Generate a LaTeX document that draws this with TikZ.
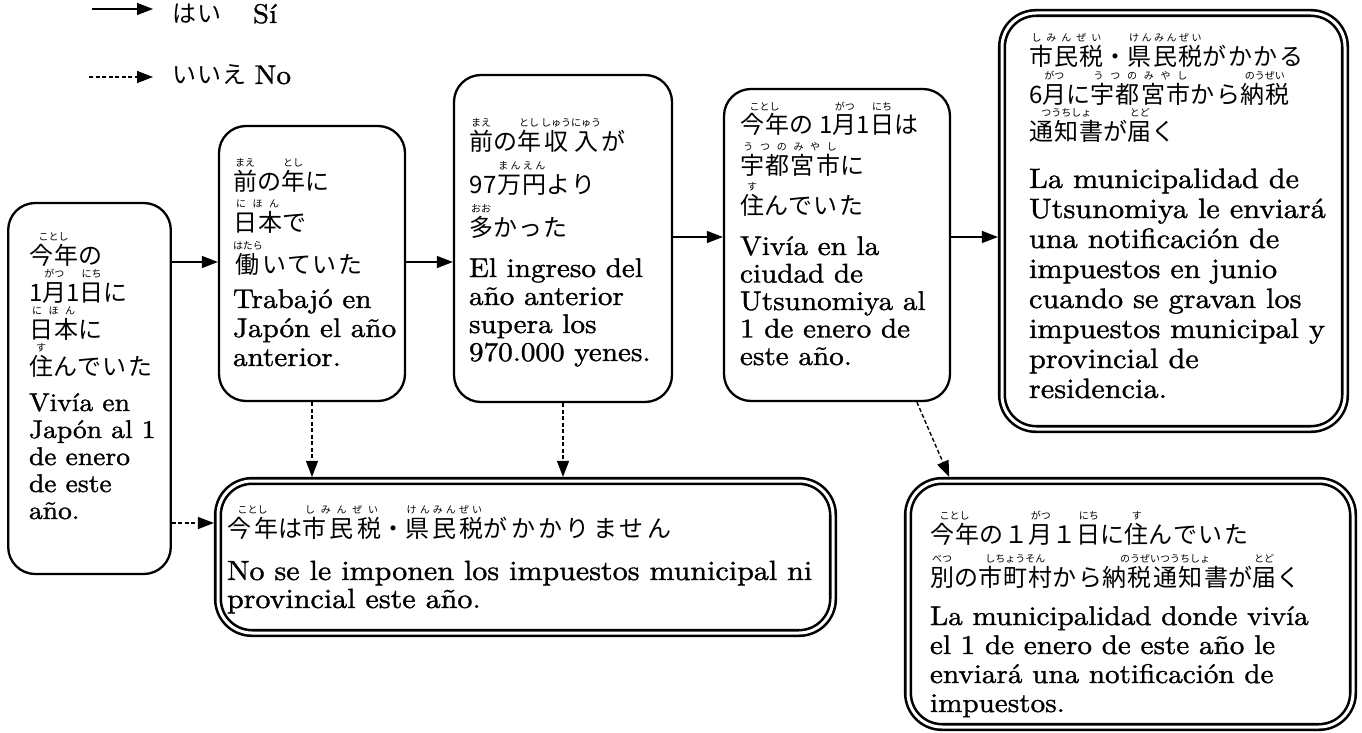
\documentclass[tikz,border=0pt]{standalone}
\usepackage{fontspec}
\setmainfont{lmroman10-regular.otf}[FakeStretch=1.08,FakeBold=1.2]
\newfontfamily\jfam{Noto Sans CJK JP}[LetterSpace=6]
\newfontfamily\jwfam{Noto Sans CJK JP}[LetterSpace=14]
\newfontfamily\rfam{Noto Sans CJK JP}
\usetikzlibrary{arrows.meta,calc}
\newbox\rbA \newbox\rbB \newdimen\rbW
\newcommand\rubyf{\rfam\fontsize{10}{10}\selectfont}
\newcommand\jf{\jfam\fontsize{24}{24}\selectfont}
\newcommand\jwf{\jwfam\fontsize{24}{24}\selectfont}
\makeatletter
\newcommand\spreadchars[1]{\@tfor\rb@c:=#1\do{\hskip0pt plus1fil\rb@c\hskip0pt plus1fil}}
\makeatother
% centred ruby
\newcommand\rb[2]{\setbox\rbA\hbox{#1}\setbox\rbB\hbox{\rubyf #2}%
  \rbW=\wd\rbA \ifdim\wd\rbB>\rbW \rbW=\wd\rbB\fi
  \hbox to\rbW{\hss\box\rbA\hss}%
  \llap{\smash{\raise24pt\hbox to\rbW{\hss\box\rbB\hss}}}}
% spread ruby
\newcommand\rbs[2]{\setbox\rbA\hbox{#1}\setbox\rbB\hbox{\rubyf #2}%
  \rbW=\wd\rbA \ifdim\wd\rbB>\rbW \rbW=\wd\rbB\fi
  \hbox to\rbW{\hss\box\rbA\hss}%
  \llap{\smash{\raise24pt\hbox to\rbW{\rubyf\spreadchars{#2}}}}}
\newcommand\JL[1]{\hbox{\jf #1}}
\newcommand\JW[1]{\hbox{\jwf #1}}
\newcommand\SL[1]{\hbox{#1}}
\newcommand\BS[1]{\baselineskip=#1pt\relax}
\newcommand\TB[1]{\vtop{\lineskiplimit=-\maxdimen #1}}
\tikzset{
  txt/.style={anchor=base west, inner sep=0pt, outer sep=0pt, font=\fontsize{27}{28}\selectfont},
  sbox/.style={draw, line width=2.3pt, rounded corners=27pt, inner sep=0pt},
  dbox/.style={draw, line width=2.6pt, double=white, double distance=3pt, rounded corners=34pt, inner sep=0pt, outer sep=4.1pt},
  arrY/.style={line width=1.4pt, -{Triangle[length=16pt,width=12pt]}},
  arrN/.style={arrY, dash pattern=on 4pt off 2.5pt}
}
\begin{document}
\begin{tikzpicture}[x=1pt,y=-1pt]
\useasboundingbox (0,0) rectangle (1362,733);
% boxes
\node[sbox, minimum width=162.6pt, minimum height=371pt] (b1) at (89.5,388.5) {};
\node[sbox, minimum width=186pt, minimum height=275pt] (b2) at (312,263.5) {};
\node[sbox, minimum width=218pt, minimum height=327pt] (b3) at (563,238.5) {};
\node[sbox, minimum width=226pt, minimum height=312pt] (b4) at (837,245) {};
\node[dbox, minimum width=343pt, minimum height=416pt] (b5) at (1173.5,221) {};
\node[dbox, minimum width=615pt, minimum height=152pt] (b6) at (525.5,557) {};
\node[dbox, minimum width=445pt, minimum height=246pt] (b7) at (1130.5,604) {};
% texts
\node[txt, font=\fontsize{25.5}{27}\selectfont] (t1) at (29,264) {\TB{\BS{37}%
  \JL{\rb{今年}{ことし}の}\JL{1\rb{月}{がつ}1\rb{日}{にち}に}\JL{\rbs{日本}{にほん}に}\JL{\rb{住}{す}んでいた}%
  \vskip9pt\BS{27}\SL{Vivía en}\SL{Japón al 1}\SL{de enero}\SL{de este}\SL{año.}}};
\node[txt] (t2) at (233,190) {\TB{\BS{41.5}%
  \JL{\rb{前}{まえ}の\rb{年}{とし}に}\JL{\rbs{日本}{にほん}で}\JL{\rb{働}{はたら}いていた}%
  \vskip6pt\BS{29}\SL{Trabajó en}\SL{Japón el año}\SL{anterior.}}};
\node[txt] (t3) at (469,150) {\TB{\BS{43}%
  \JL{\rb{前}{まえ}の\rb{年}{とし}\rb{収}{しゅう}\rb{入}{にゅう}が}\JL{97\rbs{万円}{まんえん}より}\JL{\rb{多}{おお}かった}%
  \vskip13pt\BS{28}\SL{El ingreso del}\SL{año anterior}\SL{supera los}\SL{970.000 yenes.}}};
\node[txt] (t4) at (740,134) {\TB{\BS{40.5}%
  \JL{\rb{今年}{ことし}の\kern6pt 1\rb{月}{がつ}1\rb{日}{にち}は}\JL{\rbs{宇都宮市}{うつのみやし}に}\JL{\rb{住}{す}んでいた}%
  \vskip12.5pt\BS{27.5}\SL{Vivía en la}\SL{ciudad de}\SL{Utsunomiya al}\SL{1 de enero de}\SL{este año.}}};
\node[txt, font=\fontsize{28}{30}\selectfont] (t5) at (1029,66) {\TB{\BS{37.5}%
  \JL{\rbs{市民税}{しみんぜい}・\rbs{県民税}{けんみんぜい}がかかる}\JL{6\rb{月}{がつ}に\rbs{宇都宮市}{うつのみやし}から\rb{納税}{のうぜい}}\JL{\rb{通知書}{つうちしょ}が\rb{届}{とど}く}%
  \vskip17pt\BS{30}\SL{La municipalidad de}\SL{Utsunomiya le enviará}\SL{una notificación de}\SL{impuestos en junio}\SL{cuando se gravan los}\SL{impuestos municipal y}\SL{provincial de}\SL{residencia.}}};
\node[txt, font=\fontsize{27.8}{28}\selectfont] (t6) at (227,537) {\TB{\BS{28}%
  \JW{\rb{今年}{ことし}は\rbs{市民税}{しみんぜい}・\rbs{県民税}{けんみんぜい}がかかりません}%
  \vskip15pt\SL{No se le imponen los impuestos municipal ni}\SL{provincial este año.}}};
\node[txt] (t7) at (930,543) {\TB{\BS{43}%
  \JL{\rb{今年}{ことし}の１\rb{月}{がつ}１\rb{日}{にち}に\rb{住}{す}んでいた}\JL{\rb{別}{べつ}の\rb{市町村}{しちょうそん}から\rb{納税通知書}{のうぜいつうちしょ}が\rb{届}{とど}く}%
  \vskip10pt\BS{29}\SL{La municipalidad donde vivía}\SL{el 1 de enero de este año le}\SL{enviará una notificación de}\SL{impuestos.}}};
% connectors
\coordinate (Ya) at (0,262);
\coordinate (Yb) at (0,237);
\coordinate (Yc) at (0,523);
\draw[arrY] (b1.east |- Ya) -- (b2.west |- Ya);
\draw[arrY] (b2.east |- Ya) -- (b3.west |- Ya);
\draw[arrY] (b3.east |- Yb) -- (b4.west |- Yb);
\draw[arrY] (b4.east |- Yb) -- (b5.west |- Yb);
\draw[arrN] (b1.east |- Yc) -- (b6.west |- Yc);
\draw[arrN] (b2.south) -- (b2.south |- b6.north);
\draw[arrN] (b3.south) -- (b3.south |- b6.north);
\draw[arrN] ($(b4.south west)!0.85!(b4.south east)$) -- ($(b7.north west)!0.1!(b7.north east)$);
% legend
\coordinate (la1) at (92,9);
\coordinate (la2) at (153,9);
\coordinate (lb1) at (89,77);
\coordinate (lb2) at (153,77);
\draw[arrY] (la1) -- (la2);
\draw[arrN] (lb1) -- (lb2);
\node[txt] (lg1) at (172,23) {{\jf はい　}\kern6pt Sí};
\node[txt] (lg2) at (172,84) {{\jf いいえ}\kern-2pt\ No};
\end{tikzpicture}
\end{document}
